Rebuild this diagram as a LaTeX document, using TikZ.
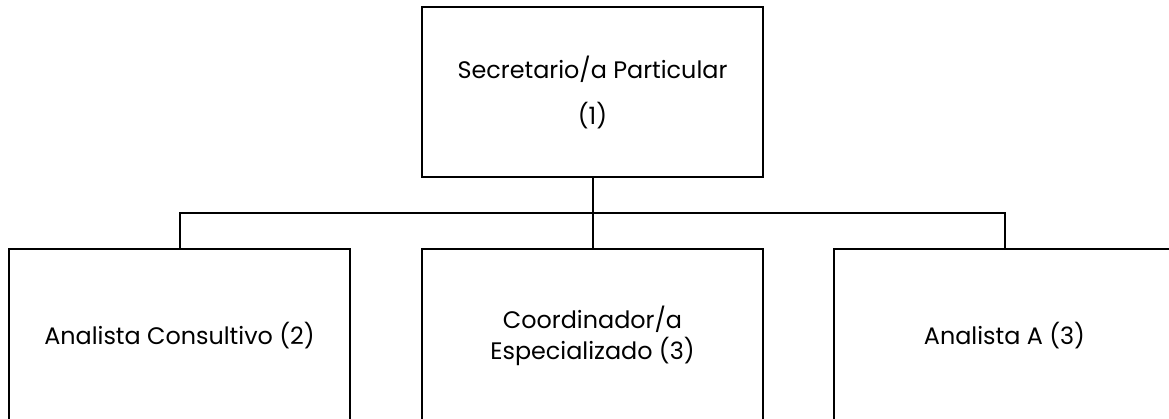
\documentclass[tikz,border=0pt]{standalone}
\usepackage{fontspec}
\setmainfont{Poppins}
\begin{document}
\begin{tikzpicture}[x=0.75pt,y=-0.75pt, line width=1.5pt,
  post/.style={draw,rectangle,minimum width=255.75pt,minimum height=127.5pt,inner sep=0pt,align=center,font=\fontsize{17.9}{23.25}\selectfont},
  low/.style={post,minimum height=130.5pt}]
\useasboundingbox (0,0) rectangle (1169,418);
\clip (0,0) rectangle (1169,418);

\node[post] at (592.5,92)(sec) {Secretario/a Particular\\[11.25pt](1)};
\node[low] at (179.5,336)(ana) {Analista Consultivo (2)};
\node[low] at (592.5,336)(coo) {Coordinador/a\\Especializado (3)};
\node[low] at (1004.5,336)(anb) {Analista A (3)};
\coordinate (bar) at (592.5,213);

\draw (sec.south) -- (coo.north);
\draw (ana.north) |- (bar) -| (anb.north);

\end{tikzpicture}
\end{document}
